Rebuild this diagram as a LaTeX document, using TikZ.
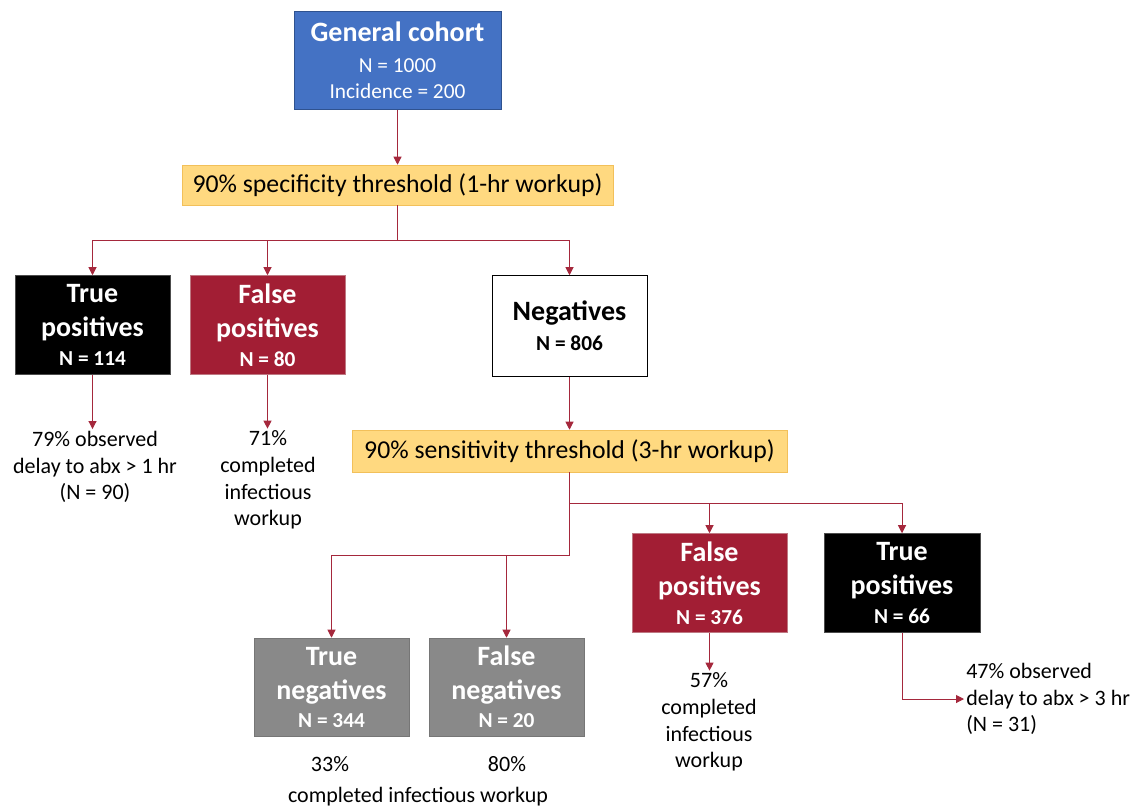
\documentclass[tikz,border=0pt]{standalone}
\usepackage{fontspec}
\setmainfont{Carlito}
\usetikzlibrary{arrows.meta}

\definecolor{cohortblue}{RGB}{68,114,196}
\definecolor{cohortedge}{RGB}{47,82,143}
\definecolor{fpred}{RGB}{162,30,52}
\definecolor{fpedge}{RGB}{190,120,130}
\definecolor{tngray}{RGB}{137,137,137}
\definecolor{tnedge}{RGB}{118,118,118}
\definecolor{threshfill}{RGB}{255,217,128}
\definecolor{threshedge}{RGB}{242,192,90}
\definecolor{linkred}{RGB}{165,40,60}

\newcommand{\bigfont}{\fontsize{21}{25.5}\selectfont}
\newcommand{\nfont}{\fontsize{16}{25.5}\selectfont}

\begin{document}
\begin{tikzpicture}[
  x=0.75pt, y=-0.75pt,
  cell/.style={align=center, inner sep=0pt, minimum width=116.25pt,
               minimum height=74.25pt, font=\bfseries\bigfont, text=white},
  tp/.style={cell, fill=black, draw=black!70},
  fp/.style={cell, fill=fpred, draw=fpedge},
  gr/.style={cell, fill=tngray, draw=tnedge},
  thresh/.style={draw=threshedge, fill=threshfill, inner sep=0pt,
                 font=\fontsize{19.3}{23}\selectfont, minimum height=30pt},
  note/.style={align=center, font=\fontsize{16.5}{19.9}\selectfont, inner sep=1.5pt},
  arr/.style={-{Triangle[length=6pt,width=6pt]}, linkred, line width=0.75pt},
  link/.style={linkred, line width=0.75pt}
]
\useasboundingbox (0,0) rectangle (1138,807);

% first stage
\node[cell, fill=cohortblue, draw=cohortedge, minimum width=155.25pt,
      minimum height=73.5pt] (cohort) at (397.5,60.5)
  {General cohort\\[-2.25pt]\mdseries\nfont N = 1000\\[-6pt]\mdseries\nfont Incidence = 200};
\node[thresh, minimum width=323.25pt] (spec) at (397.5,185)
  {90\% specificity threshold (1-hr workup)};

\node[tp] (tp1) at (92.5,325) {True\\positives\\[-3.75pt]\nfont N = 114};
\node[fp] (fp1) at (267.5,325) {False\\positives\\[-3.75pt]\nfont N = 80};
\node[cell, fill=white, draw=black, text=black, minimum height=75.75pt] (neg)
  at (569.5,326) {Negatives\\[-3pt]\nfont N = 806};

\node[note] (tpnote1) at (95,467) {79\% observed\\delay to abx > 1 hr\\(N = 90)};
\node[note] (fpnote1) at (268,480) {71\%\\completed\\infectious\\workup};

% second stage
\node[thresh, minimum width=326.25pt, minimum height=31.5pt] (sens) at (569.5,451)
  {90\% sensitivity threshold (3-hr workup)};

\node[fp] (fp2) at (709.5,583) {False\\positives\\[-3.75pt]\nfont N = 376};
\node[tp, minimum width=117pt] (tp2) at (902,583) {True\\positives\\[-3.75pt]\nfont N = 66};
\node[gr, minimum height=73.5pt] (tn) at (331.5,687) {True\\negatives\\[-4.5pt]\nfont N = 344};
\node[gr, minimum height=73.5pt] (fn) at (506.5,687) {False\\negatives\\[-4.5pt]\nfont N = 20};

\node[note] (fpnote2) at (709,722) {57\%\\completed\\infectious\\workup};
\node[note, align=left, anchor=west] (tpnote2) at (964,699)
  {47\% observed\\delay to abx > 3 hr\\(N = 31)};
\node[note] (tnnote) at (330,764) {33\%};
\node[note] (fnnote) at (507,764) {80\%};
\node[note] (wknote) at (418,797) {completed infectious workup};

% connectors
\coordinate (j1) at (397.5,240);
\coordinate (j2) at (569.5,503);
\coordinate (j3) at (569.5,555);

\draw[arr] (cohort) -- (spec);
\draw[link] (spec) -- (j1);
\foreach \n in {tp1,fp1,neg}
  {\draw[arr] (j1) -| (\n);}
\draw[arr] (tp1.south) -- (tp1.south |- tpnote1.north);
\draw[arr] (fp1.south) -- (fp1.south |- fpnote1.north);

\draw[arr] (neg) -- (sens);
\draw[link] (sens.south) -- (j3);
\foreach \n in {fp2,tp2}
  {\draw[arr] (j2) -| (\n);}
\foreach \n in {tn,fn}
  {\draw[arr] (j3) -| (\n);}
\draw[arr] (fp2.south) -- (fp2.south |- fpnote2.north);
\draw[arr] (tp2.south) |- (tpnote2.west);

\end{tikzpicture}
\end{document}
